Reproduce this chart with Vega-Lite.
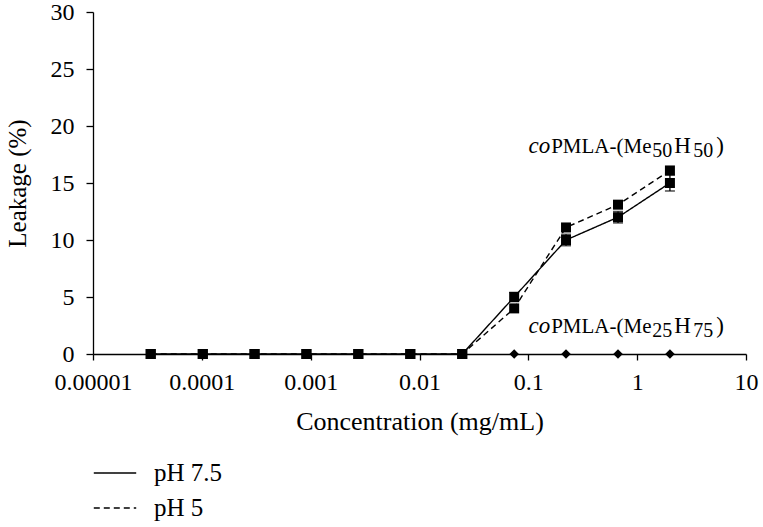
{
  "$schema": "https://vega.github.io/schema/vega-lite/v6.json",
  "autosize": {"type": "none"},
  "width": 653,
  "height": 342,
  "padding": {"left": 93, "top": 12, "right": 17, "bottom": 173},
  "background": "white",
  "config": {
    "font": "Liberation Serif",
    "view": {"stroke": null}
  },
  "datasets": {
    "pts": [
      {"conc": 0.0000339, "leak": 0, "series": "pH 7.5"},
      {"conc": 0.000102, "leak": 0, "series": "pH 7.5"},
      {"conc": 0.000305, "leak": 0, "series": "pH 7.5"},
      {"conc": 0.000914, "leak": 0, "series": "pH 7.5"},
      {"conc": 0.00274, "leak": 0, "series": "pH 7.5"},
      {"conc": 0.00823, "leak": 0, "series": "pH 7.5"},
      {"conc": 0.0247, "leak": 0, "series": "pH 7.5"},
      {"conc": 0.0741, "leak": 5.0, "series": "pH 7.5"},
      {"conc": 0.222, "leak": 10.0, "series": "pH 7.5"},
      {"conc": 0.667, "leak": 12.0, "series": "pH 7.5"},
      {"conc": 2.0, "leak": 15.0, "series": "pH 7.5"},
      {"conc": 0.0000339, "leak": 0, "series": "pH 5"},
      {"conc": 0.000102, "leak": 0, "series": "pH 5"},
      {"conc": 0.000305, "leak": 0, "series": "pH 5"},
      {"conc": 0.000914, "leak": 0, "series": "pH 5"},
      {"conc": 0.00274, "leak": 0, "series": "pH 5"},
      {"conc": 0.00823, "leak": 0, "series": "pH 5"},
      {"conc": 0.0247, "leak": 0, "series": "pH 5"},
      {"conc": 0.0741, "leak": 4.0, "series": "pH 5"},
      {"conc": 0.222, "leak": 11.1, "series": "pH 5"},
      {"conc": 0.667, "leak": 13.1, "series": "pH 5"},
      {"conc": 2.0, "leak": 16.1, "series": "pH 5"}
    ],
    "err": [
      {"conc": 0.0741, "lo": 4.6, "hi": 5.4},
      {"conc": 0.222, "lo": 9.5, "hi": 10.5},
      {"conc": 0.667, "lo": 11.5, "hi": 12.5},
      {"conc": 2.0, "lo": 14.3, "hi": 15.7}
    ],
    "dia": [
      {"conc": 0.0741, "leak": 0},
      {"conc": 0.222, "leak": 0},
      {"conc": 0.667, "leak": 0},
      {"conc": 2.0, "leak": 0}
    ],
    "labels": [
      {"conc": 0.162, "leak": 17.66, "co": "co", "a": "PMLA-(Me", "s1": "50", "h": "H", "s2": "50", "close": ")"},
      {"conc": 0.162, "leak": 1.82, "co": "co", "a": "PMLA-(Me", "s1": "25", "h": "H", "s2": "75", "close": ")"}
    ]
  },
  "encoding": {
    "x": {"field": "conc", "type": "quantitative", "scale": {"type": "log", "domain": [0.00001, 10]},
      "axis": {"title": "Concentration (mg/mL)", "values": [0.00001, 0.0001, 0.001, 0.01, 0.1, 1, 10], "format": ".5~f",
        "tickSize": 6, "labelPadding": 10, "titlePadding": 14, "labelFlush": false, "labelOverlap": false,
        "labelFont": "Liberation Serif", "titleFont": "Liberation Serif", "labelFontSize": 24, "titleFontSize": 26, "titleFontWeight": "normal",
        "labelColor": "black", "titleColor": "black", "domainColor": "black", "tickColor": "black", "domainWidth": 1.3, "tickWidth": 1.3, "grid": false}}
  },
  "layer": [
    {
      "data": {"name": "pts"},
      "mark": {"type": "line", "color": "black", "strokeWidth": 1.4},
      "encoding": {
        "y": {"field": "leak", "type": "quantitative", "scale": {"domain": [0, 30]},
          "axis": {"title": "Leakage (%)", "values": [0, 5, 10, 15, 20, 25, 30], "tickSize": 7, "labelPadding": 12, "titlePadding": 20,
            "labelFont": "Liberation Serif", "titleFont": "Liberation Serif", "labelFontSize": 24, "titleFontSize": 25, "titleFontWeight": "normal",
            "labelColor": "black", "titleColor": "black", "domainColor": "black", "tickColor": "black", "domainWidth": 1.3, "tickWidth": 1.3, "grid": false}},
        "strokeDash": {"field": "series", "type": "nominal", "scale": {"domain": ["pH 7.5", "pH 5"], "range": [[1, 0], [6, 4]]},
          "legend": {"title": null, "orient": "none", "legendX": 0, "legendY": 439, "symbolType": "stroke", "symbolSize": 1800, "symbolStrokeColor": "black", "symbolStrokeWidth": 1.4, "labelFontSize": 25, "labelFont": "Liberation Serif", "labelColor": "black", "rowPadding": -12, "labelOffset": 17}}
      }
    },
    {
      "data": {"name": "err"},
      "mark": {"type": "rule", "color": "black", "strokeWidth": 1.3},
      "encoding": {"y": {"field": "lo", "type": "quantitative"}, "y2": {"field": "hi"}}
    },
    {
      "data": {"name": "err"},
      "mark": {"type": "tick", "color": "black", "thickness": 1.5, "size": 10, "orient": "horizontal"},
      "encoding": {"y": {"field": "lo", "type": "quantitative"}}
    },
    {
      "data": {"name": "err"},
      "mark": {"type": "tick", "color": "black", "thickness": 1.5, "size": 10, "orient": "horizontal"},
      "encoding": {"y": {"field": "hi", "type": "quantitative"}}
    },
    {
      "data": {"name": "dia"},
      "mark": {"type": "point", "shape": "diamond", "filled": true, "color": "black", "opacity": 1, "size": 90},
      "encoding": {"y": {"field": "leak", "type": "quantitative"}}
    },
    {
      "data": {"name": "pts"},
      "mark": {"type": "point", "shape": "square", "filled": true, "color": "black", "opacity": 1, "size": 100},
      "encoding": {"y": {"field": "leak", "type": "quantitative"}}
    },
    {
      "data": {"name": "labels"},
      "mark": {"type": "text", "align": "right", "baseline": "alphabetic", "fontStyle": "italic", "fontSize": 23, "color": "black", "dx": -1},
      "encoding": {"y": {"field": "leak", "type": "quantitative"}, "text": {"field": "co"}}
    },
    {
      "data": {"name": "labels"},
      "mark": {"type": "text", "align": "left", "baseline": "alphabetic", "fontSize": 21, "color": "black", "dx": 0},
      "encoding": {"y": {"field": "leak", "type": "quantitative"}, "text": {"field": "a"}}
    },
    {
      "data": {"name": "labels"},
      "mark": {"type": "text", "align": "left", "baseline": "alphabetic", "fontSize": 20, "color": "black", "dx": 101, "dy": 4},
      "encoding": {"y": {"field": "leak", "type": "quantitative"}, "text": {"field": "s1"}}
    },
    {
      "data": {"name": "labels"},
      "mark": {"type": "text", "align": "left", "baseline": "alphabetic", "fontSize": 23, "color": "black", "dx": 123},
      "encoding": {"y": {"field": "leak", "type": "quantitative"}, "text": {"field": "h"}}
    },
    {
      "data": {"name": "labels"},
      "mark": {"type": "text", "align": "left", "baseline": "alphabetic", "fontSize": 20, "color": "black", "dx": 142, "dy": 4},
      "encoding": {"y": {"field": "leak", "type": "quantitative"}, "text": {"field": "s2"}}
    },
    {
      "data": {"name": "labels"},
      "mark": {"type": "text", "align": "left", "baseline": "alphabetic", "fontSize": 23, "color": "black", "dx": 165},
      "encoding": {"y": {"field": "leak", "type": "quantitative"}, "text": {"field": "close"}}
    }
  ]
}
